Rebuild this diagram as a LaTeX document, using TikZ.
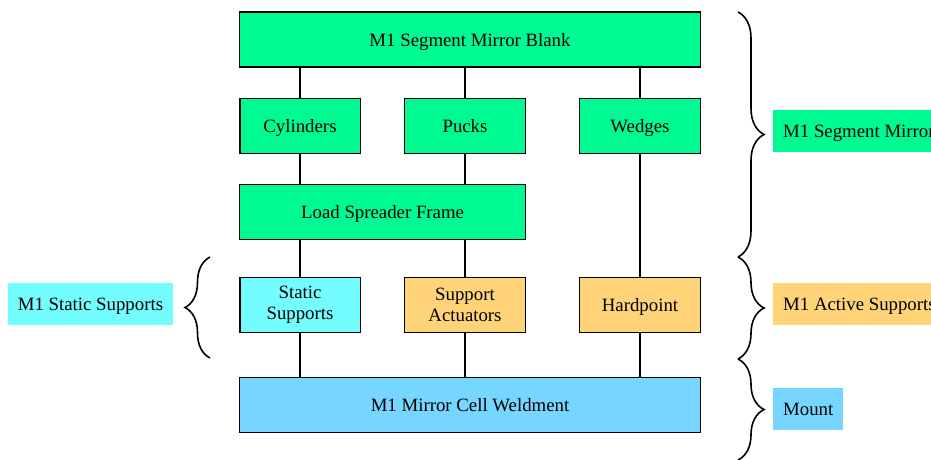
\documentclass[tikz,border=0pt]{standalone}
\usepackage{fontspec}
\setmainfont{Liberation Serif}
\usetikzlibrary{decorations.pathreplacing}
\definecolor{seafoam}{HTML}{00FA92}
\definecolor{ice}{HTML}{73FDFF}
\definecolor{cantaloupe}{HTML}{FFD479}
\definecolor{sky}{HTML}{76D6FF}
\tikzset{
  blk/.style={draw=black, line width=1.5pt, inner sep=0pt, align=center,
    minimum height=55pt, font=\fontsize{18.8}{21.5}\selectfont},
  oneline/.style={text height=17pt, text depth=4pt},
  lbl/.style={inner xsep=10pt, inner ysep=0pt, minimum height=42pt,
    text height=17pt, text depth=4pt,
    font=\fontsize{18.8}{21.5}\selectfont},
  conn/.style={line width=1.6pt},
  brc/.style={decorate, decoration={brace, amplitude=26pt}, line width=1.6pt}
}
\begin{document}
\begin{tikzpicture}[x=1pt, y=-1pt]
\useasboundingbox (0,0) rectangle (931,459);
\clip (0,0) rectangle (931,459);
% main boxes
\node[blk, oneline, fill=seafoam, minimum width=461pt] (top) at (470,39.5) {M1 Segment Mirror Blank};
\node[blk, oneline, fill=seafoam, minimum width=120.5pt] (cyl) at (300,126) {Cylinders};
\node[blk, oneline, fill=seafoam, minimum width=120.7pt] (puck) at (465,126) {Pucks};
\node[blk, oneline, fill=seafoam, minimum width=120.7pt] (wedge) at (640,126) {Wedges};
\node[blk, oneline, fill=seafoam, minimum width=286pt] (lsf) at (382.6,212) {Load Spreader Frame};
\node[blk, fill=ice, minimum width=120.5pt] (stat) at (300,305) {Static\\Supports};
\node[blk, fill=cantaloupe, minimum width=120.7pt] (act) at (465,305) {Support\\Actuators};
\node[blk, oneline, fill=cantaloupe, minimum width=120.7pt] (hard) at (640,305) {Hardpoint};
\node[blk, oneline, fill=sky, minimum width=461pt] (weld) at (470,405) {M1 Mirror Cell Weldment};
% connectors
\draw[conn] (cyl.north) -- (cyl.north |- top.south);
\draw[conn] (puck.north) -- (puck.north |- top.south);
\draw[conn] (wedge.north) -- (wedge.north |- top.south);
\draw[conn] (cyl.south) -- (cyl.south |- lsf.north);
\draw[conn] (puck.south) -- (puck.south |- lsf.north);
\draw[conn] (wedge.south) -- (hard.north);
\draw[conn] (stat.north) -- (stat.north |- lsf.south);
\draw[conn] (act.north) -- (act.north |- lsf.south);
\draw[conn] (stat.south) -- (stat.south |- weld.north);
\draw[conn] (act.south) -- (act.south |- weld.north);
\draw[conn] (hard.south) -- (hard.south |- weld.north);
% group labels
\node[lbl, fill=seafoam, anchor=west] (lseg) at (773,131) {M1 Segment Mirror};
\node[lbl, fill=cantaloupe, anchor=west] (lact) at (773,304) {M1 Active Supports};
\node[lbl, fill=sky, anchor=west] (lmount) at (773,409) {Mount};
\node[lbl, fill=ice, minimum width=165pt] (lstat) at (90.5,304) {M1 Static Supports};
% braces
\coordinate (b0) at (738,12);
\coordinate (b1) at (738,257);
\coordinate (b2) at (738,359);
\coordinate (b3) at (738,460);
\draw[brc] (b0) -- (b1);
\draw[brc] (b1) -- (b2);
\draw[brc] (b2) -- (b3);
\coordinate (s0) at (210,358);
\coordinate (s1) at (210,257);
\draw[brc, decoration={brace, amplitude=25pt}] (s0) -- (s1);
\end{tikzpicture}
\end{document}
